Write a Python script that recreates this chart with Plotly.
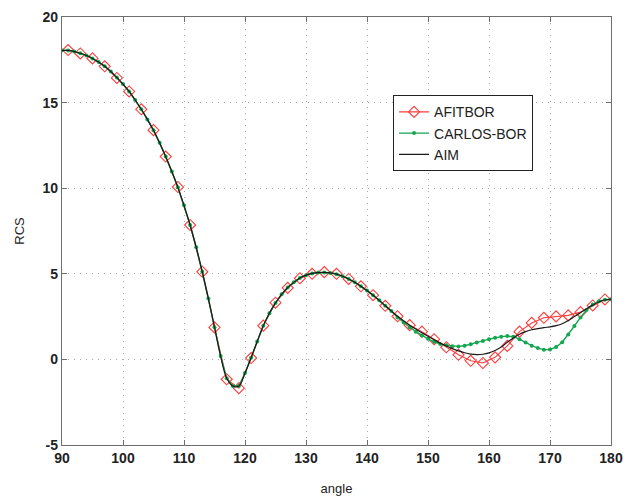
import plotly.graph_objects as go

# AFITBOR: odd angles 91..179
afit_angle = list(range(91, 180, 2))
afit_rcs = [18.07, 17.87, 17.58, 17.12, 16.44, 15.65, 14.61, 13.39, 11.85, 10.07,
            7.85, 5.12, 1.87, -1.16, -1.68, 0.08, 1.97, 3.31, 4.18, 4.74,
            5.0, 5.1, 5.0, 4.7, 4.27, 3.75, 3.13, 2.52, 2.0, 1.62,
            1.18, 0.71, 0.27, -0.08, -0.21, 0.12, 0.79, 1.62, 2.13, 2.43,
            2.51, 2.57, 2.76, 3.15, 3.5]

# CARLOS-BOR and AIM: every degree 90..180
angle = list(range(90, 181))
common_90_144 = [18.05, 18.05, 17.98, 17.88, 17.75, 17.58, 17.37, 17.12, 16.82, 16.46,
                 16.08, 15.65, 15.15, 14.61, 14.02, 13.38, 12.65, 11.85, 10.98, 10.05,
                 9.0, 7.85, 6.55, 5.12, 3.55, 1.88, 0.2, -1.1, -1.55, -1.55,
                 -0.8, 0.1, 1.05, 1.97, 2.7, 3.3, 3.8, 4.2, 4.5, 4.75,
                 4.92, 5.02, 5.07, 5.08, 5.05, 4.98, 4.86, 4.7, 4.5, 4.27,
                 4.02, 3.75, 3.45, 3.13, 2.82]
carlos_145_180 = [2.45, 2.15, 1.88, 1.62, 1.4, 1.2, 1.03, 0.9, 0.82, 0.77,
                  0.76, 0.8, 0.88, 0.98, 1.08, 1.18, 1.27, 1.33, 1.36, 1.32,
                  1.18, 0.98, 0.8, 0.66, 0.57, 0.58, 0.72, 1.0, 1.45, 1.95,
                  2.45, 2.88, 3.2, 3.4, 3.48, 3.51]
aim_145_180 = [2.52, 2.25, 2.0, 1.77, 1.56, 1.35, 1.15, 0.95, 0.78, 0.63,
               0.5, 0.39, 0.31, 0.28, 0.3, 0.38, 0.52, 0.72, 1.0, 1.25,
               1.47, 1.62, 1.73, 1.8, 1.86, 1.9, 1.97, 2.08, 2.27, 2.5,
               2.73, 2.96, 3.17, 3.35, 3.47, 3.52]
carlos_rcs = common_90_144 + carlos_145_180
aim_rcs = common_90_144 + aim_145_180

x_ticks = list(range(90, 181, 10))
y_ticks = list(range(-5, 21, 5))

fig = go.Figure()
fig.add_trace(go.Scatter(x=afit_angle, y=afit_rcs, name="AFITBOR", mode="lines+markers",
                         line=dict(color="#ff3b3b", width=1.1),
                         marker=dict(symbol="diamond-open", size=8.5, color="#ff3b3b",
                                     line=dict(width=1.1, color="#ff3b3b"))))
fig.add_trace(go.Scatter(x=angle, y=carlos_rcs, name="CARLOS-BOR", mode="lines+markers",
                         line=dict(color="#14a650", width=1.4),
                         marker=dict(symbol="circle", size=4, color="#14a650")))
fig.add_trace(go.Scatter(x=angle, y=aim_rcs, name="AIM", mode="lines",
                         line=dict(color="#1a1a1a", width=1.2, shape="spline")))

tick_font = dict(family="Arial, Liberation Sans", size=14, color="#222222", weight="bold")
title_font = dict(family="Arial, Liberation Sans", size=13, color="#222222")
axis_common = dict(showline=True, linecolor="#6e6e6e", linewidth=1.3, mirror="ticks",
                   ticks="inside", ticklen=5, tickcolor="#6e6e6e",
                   showgrid=True, gridcolor="#a8a8a8", griddash="1px,5px", gridwidth=1,
                   zeroline=False, automargin=False, tickfont=tick_font,
                   ticklabeloverflow="allow")

fig.update_xaxes(range=[90, 180], tickvals=x_ticks, ticktext=[str(v) for v in x_ticks],
                 title=dict(text="angle", font=title_font, standoff=18),
                 **axis_common)
fig.update_yaxes(range=[-5, 20], tickvals=y_ticks, ticktext=[str(v) for v in y_ticks],
                 title=dict(text="RCS", font=title_font, standoff=14),
                 **axis_common)

# page body has an 8px margin, so the figure is sized to fit the 631x499 window
fig.update_layout(width=623, height=491, plot_bgcolor="white", paper_bgcolor="white",
                  margin=dict(l=54, r=20, t=9, b=54),
                  legend=dict(x=0.603, y=0.817, xanchor="left", yanchor="top",
                              bgcolor="white", bordercolor="#222", borderwidth=1,
                              font=dict(family="Arial, Liberation Sans", size=14, color="#222"),
                              tracegroupgap=0),
                  showlegend=True)

fig.write_html("out.html")
